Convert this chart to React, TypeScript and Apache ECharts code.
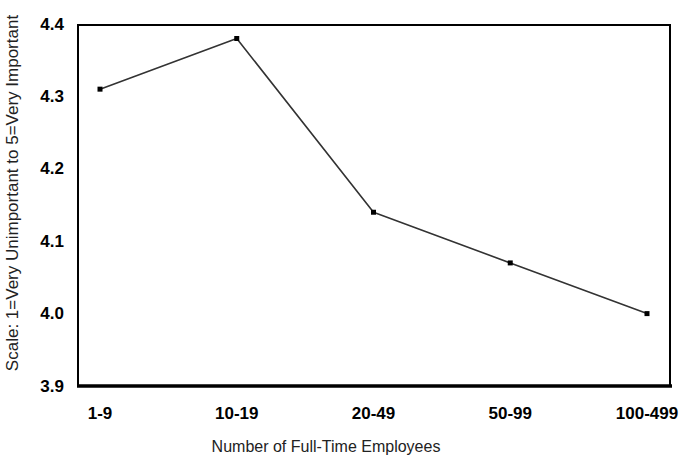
import React, { useEffect, useRef } from "react";
import * as echarts from "echarts";

const categories = ["1-9", "10-19", "20-49", "50-99", "100-499"];
const values = [4.31, 4.38, 4.14, 4.07, 4.0];
const yTicks = { min: 3.9, max: 4.4, interval: 0.1 };
const xTitle = "Number of Full-Time Employees";
const yTitle = "Scale: 1=Very Unimportant to 5=Very Important";

export default function App() {
  const ref = useRef<HTMLDivElement>(null);
  useEffect(() => {
    const chart = echarts.init(ref.current!, undefined, { renderer: "svg" });
    const font = "Arial, 'Liberation Sans', sans-serif";
    chart.setOption({
      animation: false,
      backgroundColor: "#ffffff",
      grid: {
        left: 100,
        right: 35,
        top: 24,
        bottom: 74,
        containLabel: false,
        outerBoundsMode: "none",
      },
      xAxis: {
        type: "category",
        data: categories,
        boundaryGap: false,
        axisLine: { show: false },
        axisTick: { show: false },
        axisLabel: { margin: 19, fontFamily: font, fontWeight: "bold", fontSize: 17, color: "#000" },
      },
      yAxis: {
        type: "value",
        min: yTicks.min,
        max: yTicks.max,
        interval: yTicks.interval,
        axisLine: { show: false },
        axisTick: { show: false },
        splitLine: { show: false },
        axisLabel: {
          margin: 36,
          fontFamily: font,
          fontWeight: "bold",
          fontSize: 17,
          color: "#000",
          formatter: (v: number) => v.toFixed(1),
        },
      },
      graphic: [
        {
          type: "polyline",
          shape: { points: [[78, 386], [78, 25], [670, 25], [670, 386]] },
          style: { stroke: "#000", lineWidth: 2, fill: "none" },
        },
        {
          type: "line",
          shape: { x1: 77, y1: 386, x2: 672, y2: 386 },
          style: { stroke: "#000", lineWidth: 3.5 },
        },
        {
          type: "text",
          x: 326,
          y: 446,
          style: {
            text: xTitle,
            fontFamily: font,
            fontSize: 16,
            fill: "#222",
            align: "center",
            verticalAlign: "middle",
          },
        },
        {
          type: "text",
          x: 12,
          y: 193,
          rotation: Math.PI / 2,
          style: {
            text: yTitle,
            fontFamily: font,
            fontSize: 17,
            fill: "#222",
            align: "center",
            verticalAlign: "middle",
          },
        },
      ],
      series: [
        {
          type: "line",
          data: values,
          symbol: "rect",
          symbolSize: 5,
          lineStyle: { color: "#333", width: 1.6 },
          itemStyle: { color: "#000" },
        },
      ],
    });
    return () => chart.dispose();
  }, []);
  return <div ref={ref} style={{ width: 682, height: 460, position: "absolute", left: 0, top: 0 }} />;
}
